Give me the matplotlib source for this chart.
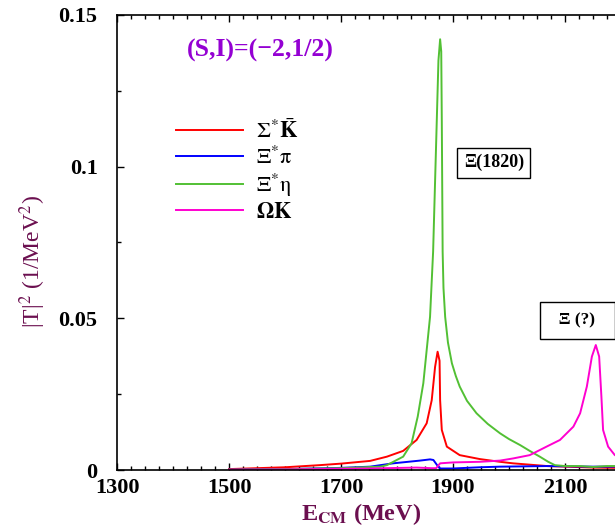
import matplotlib
matplotlib.use('Agg')
import matplotlib.pyplot as plt
from matplotlib.ticker import MultipleLocator

plt.rcParams['font.family'] = ['Liberation Serif', 'DejaVu Serif']
plt.rcParams['mathtext.fontset'] = 'stix'
plt.rcParams['mathtext.default'] = 'rm'

# |T|^2, E_CM in MeV
red_e = [1500, 1600, 1662, 1700, 1752, 1782, 1811, 1835, 1853, 1862, 1868, 1872.5, 1876, 1877, 1880, 1889, 1912, 1948, 1984, 2007, 2068, 2150, 2300]
red_v = [0.0003, 0.0009, 0.0016, 0.0021, 0.003, 0.0044, 0.0063, 0.0099, 0.0154, 0.023, 0.034, 0.039, 0.036, 0.023, 0.0132, 0.0077, 0.0049, 0.0036, 0.0027, 0.0022, 0.0013, 0.0008, 0.0005]

blue_e = [1500, 1600, 1700, 1752, 1793, 1841, 1859, 1865, 1872, 1877, 1900, 1948, 1984, 2068, 2150, 2300]
blue_v = [0.0001, 0.0003, 0.0007, 0.0011, 0.0022, 0.0031, 0.0035, 0.0033, 0.0015, 0.0005, 0.0005, 0.0009, 0.0011, 0.0013, 0.0011, 0.0012]

green_e = [1500, 1600, 1700, 1770, 1782, 1811, 1826, 1837, 1847, 1859, 1864.5, 1871, 1874, 1877, 1879, 1880, 1881.5, 1883, 1886, 1891, 1898, 1905, 1912, 1925, 1942, 1962, 1984, 2000, 2020, 2037, 2055, 2070, 2082, 2100, 2127, 2150, 2175, 2300]
green_v = [0.0001, 0.0003, 0.0006, 0.0011, 0.0016, 0.0044, 0.0088, 0.0176, 0.0286, 0.0505, 0.072, 0.115, 0.135, 0.142, 0.138, 0.115, 0.072, 0.060, 0.0505, 0.042, 0.0352, 0.031, 0.0275, 0.0228, 0.0187, 0.0152, 0.0121, 0.0102, 0.0082, 0.0063, 0.0044, 0.0027, 0.0016, 0.0013, 0.0013, 0.001, 0.0013, 0.0013]

mag_e = [1500, 1600, 1700, 1752, 1835, 1862, 1870, 1877, 1900, 1948, 1984, 2007, 2037, 2067, 2091, 2115, 2127, 2139, 2148, 2155, 2161, 2165, 2168, 2177, 2189, 2210, 2250, 2300]
mag_v = [0.0001, 0.0002, 0.0004, 0.0005, 0.0008, 0.0006, 0.0006, 0.0022, 0.0025, 0.0027, 0.0031, 0.0038, 0.0049, 0.0077, 0.0099, 0.0143, 0.0187, 0.0275, 0.0374, 0.0412, 0.0374, 0.0242, 0.0132, 0.0077, 0.0049, 0.0035, 0.0025, 0.002]

labels = [r'$\Sigma^{*}\bar{\mathbf{K}}$', r'$\Xi^{*}\pi$', r'$\Xi^{*}\eta$', r'$\mathbf{\Omega K}$']
colors = ['#ff0000', '#0000ff', '#52c034', '#ff00d0']

xticks = [1300, 1500, 1700, 1900, 2100]
yticks = [0, 0.05, 0.1, 0.15]
yticklabels = ['0', '0.05', '0.1', '0.15']

maroon = '#6b0f4f'

fig = plt.figure(figsize=(6.15, 5.3), dpi=100)
# axes runs past the right edge, like the cropped original
ax = fig.add_axes([117/615, 60/530, 560/615, 455/530])

for e, v, c, lab in zip([red_e, blue_e, green_e, mag_e], [red_v, blue_v, green_v, mag_v], colors, labels):
    ax.plot(e, v, color=c, lw=1.4, label=lab)

ax.set_xlim(1300, 2300)
ax.set_ylim(0, 0.15)
ax.set_xticks(xticks)
ax.xaxis.set_minor_locator(MultipleLocator(25))
ax.set_yticks(yticks)
ax.set_yticklabels(yticklabels)
ax.yaxis.set_minor_locator(MultipleLocator(0.025))
ax.tick_params(which='both', direction='in', top=True, right=True, width=1)
ax.tick_params(which='major', length=5)
ax.tick_params(which='minor', length=3)
ax.tick_params(axis='x', labelsize=16, pad=6)
ax.tick_params(axis='y', labelsize=16, pad=14)
for t in ax.get_xticklabels() + ax.get_yticklabels():
    t.set_fontweight('bold')
for s in ax.spines.values():
    s.set_linewidth(1.2)

ax.text(1425, 0.1384, '(S,I)=(\u22122,1/2)', color='#9400d3', fontsize=18.5,
        fontweight='bold', ha='left', va='center')

ax.text(1973, 0.1013, '\u039e(1820)', fontsize=13, fontweight='bold', ha='center', va='center',
        bbox=dict(boxstyle='square,pad=0.35', fc='white', ec='black', lw=1))
ax.text(2122, 0.0494, '  \u039e (?)  ', fontsize=12.5, fontweight='bold', ha='center', va='center',
        bbox=dict(boxstyle='square,pad=0.6', fc='white', ec='black', lw=1))

leg = ax.legend(loc='upper left', bbox_to_anchor=(0.07, 0.815), frameon=False, fontsize=16,
                handlelength=3.0, handletextpad=0.6, labelspacing=0.15)
for line in leg.get_lines():
    line.set_linewidth(1.4)

fig.text(361/615, 1 - 514/530, r'E$_{\mathbf{CM}}$ (MeV)', color=maroon, fontsize=17.5,
         fontweight='bold', ha='center', va='center')
fig.text(33/615, 1 - 262/530, r'|T|$^2$ (1/MeV$^2$)', color=maroon, fontsize=17,
         rotation=90, ha='center', va='center')

fig.savefig('out.png', dpi=100)
